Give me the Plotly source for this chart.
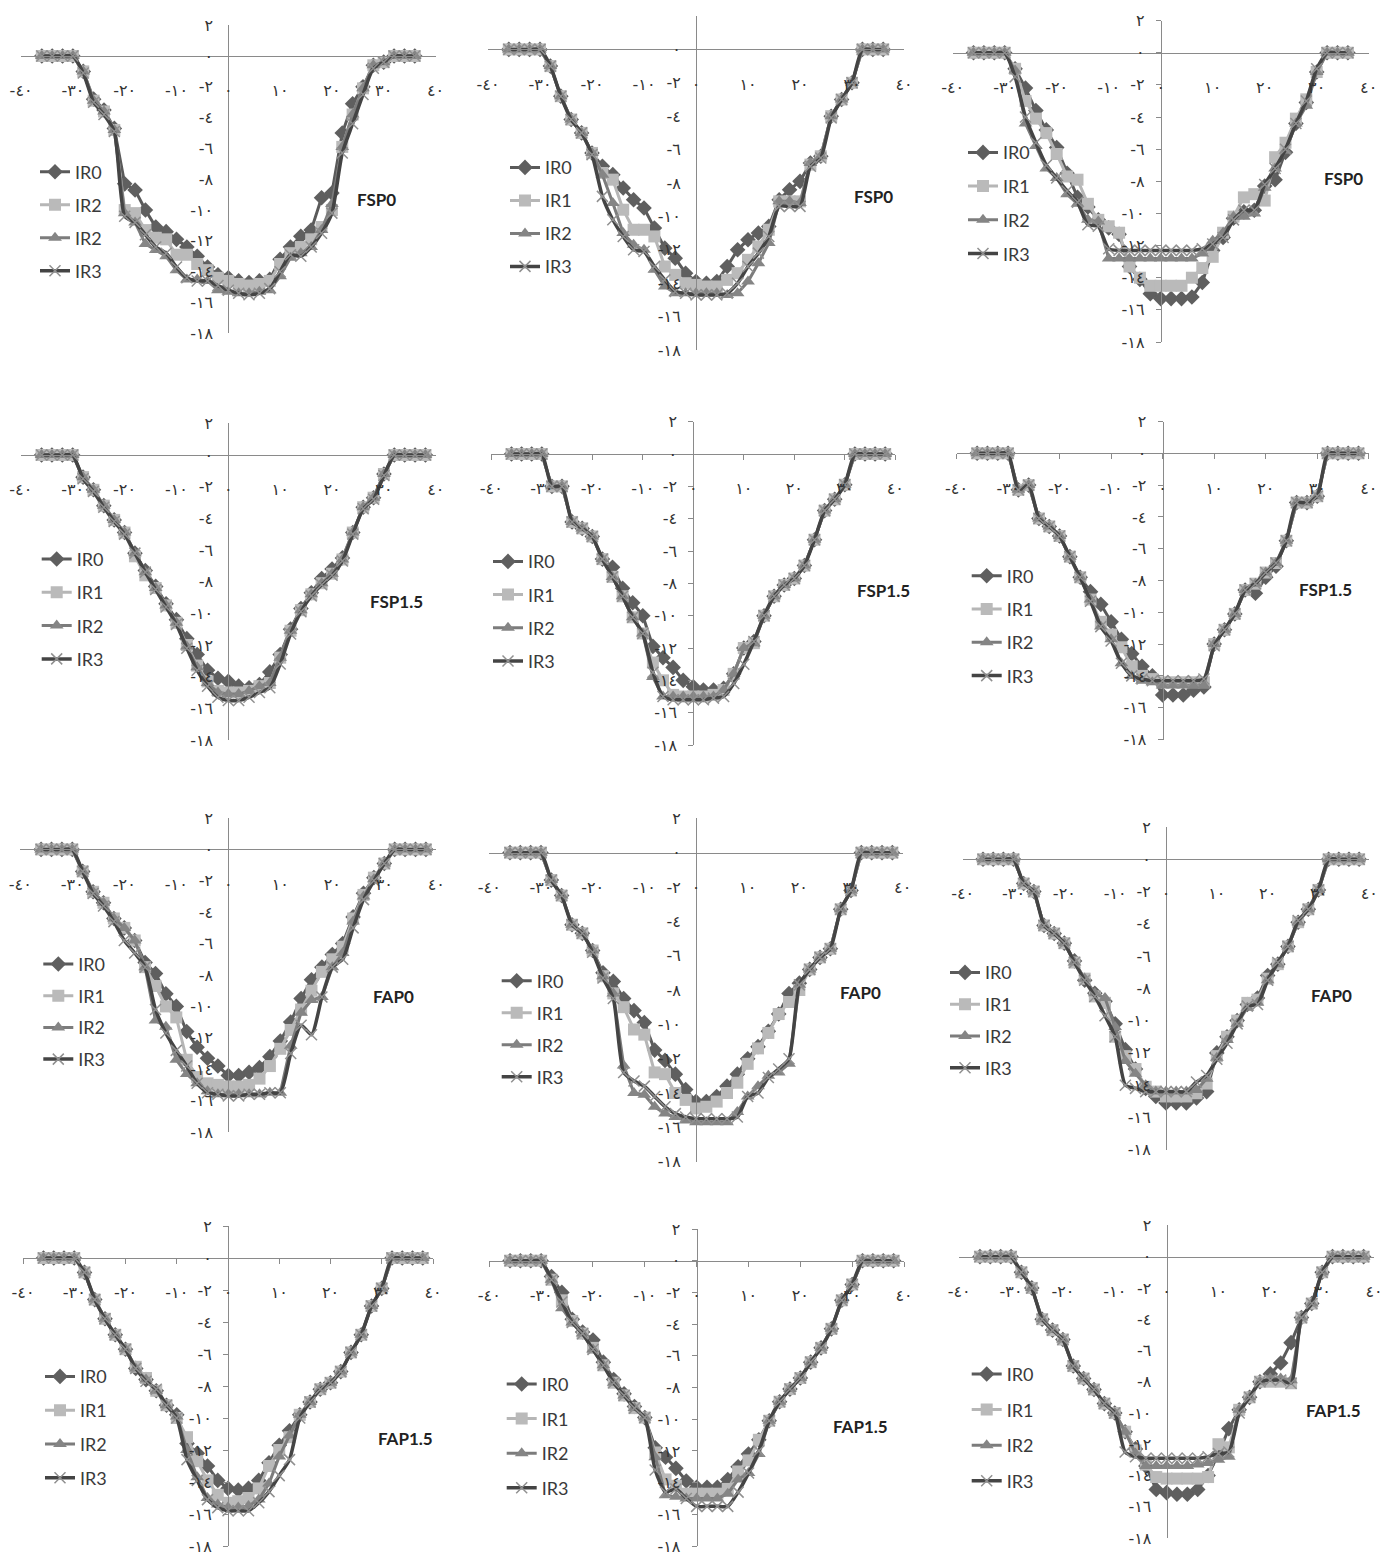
import plotly.graph_objects as go

# ---------------- data ----------------
X = [-36, -34, -32, -30, -28, -26, -24, -22, -20, -18, -16, -14, -12, -10, -8, -6, -4, -2, 0,
     2, 4, 6, 8, 10, 12, 14, 16, 18, 20, 22, 24, 26, 28, 30, 32, 34, 36, 38]

SERIES = ["IR0", "IR1", "IR2", "IR3"]
LEGEND_NAMES_P1 = ["IR0", "IR2", "IR2", "IR3"]
TITLES = ["FSP0", "FSP0", "FSP0", "FSP1.5", "FSP1.5", "FSP1.5",
          "FAP0", "FAP0", "FAP0", "FAP1.5", "FAP1.5", "FAP1.5"]

X_TICK_VALS = [-40, -30, -20, -10, 0, 10, 20, 30, 40]
X_TICK_TEXT = ["-٤٠", "-٣٠", "-٢٠", "-١٠", "٠", "١٠", "٢٠", "٣٠", "٤٠"]
Y_TICK_VALS = [2, 0, -2, -4, -6, -8, -10, -12, -14, -16, -18]
Y_TICK_TEXT = ["٢", "٠", "-٢", "-٤", "-٦", "-٨", "-١٠", "-١٢", "-١٤", "-١٦", "-١٨"]

# Panel 1 – FSP0
P1_IR0 = [0,0,0,0, -1.0,-2.8,-3.5,-4.7,-8.3,-8.7,-10.0,-11.1,-11.4,-11.9,-12.4,-13.0,-13.7,-14.2, -14.4,
          -14.6,-14.7,-14.6,-14.5,-13.2,-12.4,-11.7,-11.3,-9.2,-8.9,-5.0,-3.1,-2.0,-0.6,-0.4, 0,0,0,None]
P1_IR1 = [0,0,0,0, -1.0,-2.9,-3.6,-4.8,-10.0,-10.2,-11.3,-11.8,-11.9,-12.9,-12.9,-13.5,-13.9,-14.4, -14.6,
          -14.8,-14.9,-14.8,-14.6,-13.5,-12.8,-12.4,-11.9,-11.1,-10.0,-5.9,-3.8,-2.1,-0.6,-0.4, 0,0,0,None]
P1_IR2 = [0,0,0,0, -1.0,-2.9,-3.6,-4.8,-10.2,-10.8,-12.2,-12.6,-13.0,-13.9,-14.5,-14.5,-14.6,-15.2, -15.3,
          -15.4,-15.4,-15.3,-15.2,-14.3,-13.1,-12.8,-12.4,-11.3,-9.6,-5.9,-3.8,-2.1,-0.6,-0.4, 0,0,0,None]
P1_IR3 = [0,0,0,0, -1.1,-3.0,-3.8,-4.9,-10.4,-10.8,-11.6,-12.4,-12.8,-13.7,-14.4,-14.6,-14.6,-14.9, -15.2,
          -15.4,-15.5,-15.4,-15.1,-14.0,-12.9,-13.0,-12.4,-11.5,-10.2,-6.3,-4.4,-2.5,-0.8,-0.4, 0,0,0,None]

# Panel 2 – FSP0
P2_IR0 = [0,0,0,0, -1.0,-2.8,-4.2,-5.0,-6.2,-7.0,-7.5,-8.3,-9.0,-9.5,-10.7,-11.9,-12.5,-13.4, -13.9,
          -14.0,-13.9,-13.0,-12.0,-11.4,-11.0,-10.6,-9.0,-8.4,-7.9,-6.8,-6.4,-4.0,-3.0,-2.0, 0,0,0,None]
P2_IR1 = [0,0,0,0, -1.0,-2.8,-4.2,-5.0,-6.2,-7.4,-7.8,-9.6,-10.8,-10.8,-11.2,-13.0,-13.5,-14.0, -14.1,
          -14.2,-14.2,-13.8,-13.4,-12.6,-11.8,-10.8,-9.1,-9.1,-9.1,-6.9,-6.4,-4.0,-3.0,-2.0, 0,0,0,None]
P2_IR2 = [0,0,0,0, -1.0,-2.8,-4.2,-5.0,-6.2,-7.5,-9.2,-11.0,-11.7,-12.0,-13.2,-14.2,-14.6,-14.6, -14.6,
          -14.6,-14.6,-14.7,-14.6,-13.9,-12.8,-11.6,-9.1,-9.1,-9.2,-6.8,-6.4,-4.0,-3.0,-2.0, 0,0,0,None]
P2_IR3 = [0,0,0,0, -1.0,-2.8,-4.2,-5.0,-6.3,-8.8,-10.2,-11.2,-12.0,-12.1,-13.0,-13.8,-14.5,-14.6, -14.7,
          -14.7,-14.7,-14.6,-14.0,-13.0,-12.2,-11.2,-9.4,-9.4,-9.4,-7.0,-6.5,-4.1,-3.0,-2.0, 0,0,0,None]

# Panel 3 – FSP0
P3_IR0 = [0,0,0,0, -1.0,-2.2,-3.6,-4.8,-5.9,-7.5,-9.0,-9.6,-10.4,-10.9,-11.3,-13.3,-14.1,-15.0, -15.3,
          -15.3,-15.3,-15.2,-14.3,-12.3,-11.5,-10.3,-9.9,-9.8,-8.3,-7.9,-6.2,-4.4,-3.1,-1.2, 0,0,0,None]
P3_IR1 = [0,0,0,0, -1.0,-3.0,-4.1,-5.0,-6.3,-7.7,-7.9,-9.4,-10.4,-10.8,-11.2,-13.3,-14.0,-14.5, -14.5,
          -14.5,-14.5,-14.0,-13.4,-12.7,-11.2,-10.2,-9.0,-8.8,-9.2,-6.5,-5.6,-4.1,-2.9,-1.2, 0,0,0,None]
P3_IR2 = [0,0,0,0, -1.1,-4.4,-5.8,-7.2,-7.8,-8.8,-9.4,-10.4,-10.5,-12.8,-12.8,-12.8,-12.8,-12.8, -12.8,
          -12.8,-12.8,-12.8,-12.5,-11.7,-11.2,-10.2,-10.2,-10.0,-8.4,-7.2,-6.1,-4.4,-3.3,-1.2, 0,0,0,None]
P3_IR3 = [0,0,0,0, -1.5,-4.0,-5.6,-7.0,-7.8,-8.6,-9.3,-10.7,-10.8,-12.2,-12.3,-12.3,-12.3,-12.3, -12.3,
          -12.3,-12.3,-12.3,-12.2,-11.9,-11.5,-10.4,-9.8,-9.8,-8.2,-7.2,-6.0,-4.4,-3.0,-1.0, 0,0,0,None]

# Panel 4 – FSP1.5
P4_IR0 = [0,0,0,0, -1.4,-2.2,-3.2,-4.1,-4.9,-6.2,-7.3,-8.3,-9.4,-10.4,-11.6,-12.6,-13.6,-14.1, -14.3,
          -14.6,-14.7,-14.5,-13.7,-12.6,-11.0,-9.7,-8.7,-7.8,-7.2,-6.5,-4.9,-3.3,-2.7,-1.2, 0,0,0,0]
P4_IR1 = [0,0,0,0, -1.4,-2.2,-3.2,-4.1,-4.9,-6.4,-7.6,-8.4,-9.5,-10.6,-12.0,-13.3,-14.3,-14.9, -15.0,
          -15.0,-14.9,-14.6,-14.4,-12.8,-11.1,-9.8,-8.8,-8.1,-7.5,-6.6,-4.9,-3.3,-2.7,-1.2, 0,0,0,0]
P4_IR2 = [0,0,0,0, -1.4,-2.2,-3.2,-4.1,-4.9,-6.2,-7.4,-8.4,-9.5,-10.6,-12.1,-13.4,-14.4,-15.0, -15.1,
          -15.1,-14.9,-14.6,-14.4,-12.8,-11.1,-9.8,-8.8,-8.1,-7.5,-6.6,-4.9,-3.3,-2.7,-1.2, 0,0,0,0]
P4_IR3 = [0,0,0,0, -1.5,-2.3,-3.3,-4.2,-5.0,-6.2,-7.4,-8.5,-9.6,-10.7,-12.2,-13.6,-14.6,-15.3, -15.5,
          -15.5,-15.3,-15.0,-14.7,-13.2,-11.3,-9.9,-8.9,-8.2,-7.6,-6.7,-5.0,-3.4,-2.8,-1.3, 0,0,0,0]

# Panel 5 – FSP1.5
P5_IR0 = [0,0,0,0, -2.0,-2.0,-4.2,-4.6,-5.1,-6.5,-7.0,-8.3,-9.2,-10.0,-11.9,-12.6,-13.2,-14.0, -14.4,
          -14.6,-14.6,-14.5,-13.6,-12.0,-11.6,-10.0,-8.8,-8.1,-7.7,-6.9,-5.3,-3.5,-2.8,-1.9, 0,0,0,0]
P5_IR1 = [0,0,0,0, -2.0,-2.0,-4.2,-4.6,-5.1,-6.5,-7.6,-8.8,-10.1,-11.1,-12.9,-14.0,-14.9,-15.0, -15.0,
          -15.0,-14.9,-14.6,-13.6,-12.0,-11.7,-10.0,-8.8,-8.1,-7.7,-6.9,-5.3,-3.5,-2.8,-1.9, 0,0,0,0]
P5_IR2 = [0,0,0,0, -2.0,-2.0,-4.2,-4.6,-5.1,-6.5,-7.6,-8.8,-10.1,-11.1,-13.8,-15.0,-15.0,-15.0, -15.0,
          -15.0,-15.0,-14.6,-13.6,-12.0,-11.7,-10.0,-8.8,-8.1,-7.7,-6.9,-5.3,-3.5,-2.8,-1.9, 0,0,0,0]
P5_IR3 = [0,0,0,0, -2.0,-2.0,-4.2,-4.6,-5.1,-6.5,-7.6,-8.8,-10.1,-11.1,-13.5,-15.0,-15.2,-15.2, -15.2,
          -15.2,-15.1,-15.0,-14.2,-13.0,-11.6,-10.0,-8.8,-8.1,-7.7,-6.9,-5.3,-3.5,-2.8,-1.9, 0,0,0,0]

# Panel 6 – FSP1.5
P6_IR0 = [0,0,0,0, -2.3,-2.0,-4.1,-4.6,-5.2,-6.5,-7.8,-8.7,-9.5,-10.6,-11.7,-12.6,-13.4,-14.0, -15.2,
          -15.2,-15.2,-14.9,-14.7,-12.0,-11.1,-10.1,-8.6,-8.8,-7.8,-7.1,-5.5,-3.1,-3.1,-2.7, 0,0,0,0]
P6_IR1 = [0,0,0,0, -2.3,-2.0,-4.1,-4.6,-5.2,-6.5,-7.8,-9.2,-10.6,-11.4,-12.2,-13.4,-14.0,-14.2, -14.4,
          -14.4,-14.4,-14.4,-14.4,-12.0,-11.1,-10.1,-8.6,-8.2,-7.5,-6.9,-5.5,-3.1,-3.1,-2.7, 0,0,0,0]
P6_IR2 = [0,0,0,0, -2.3,-2.0,-4.1,-4.6,-5.2,-6.5,-7.8,-9.2,-10.9,-11.7,-13.2,-14.0,-14.3,-14.4, -14.6,
          -14.6,-14.6,-14.6,-14.6,-12.0,-11.1,-10.1,-8.6,-8.2,-7.5,-6.9,-5.5,-3.1,-3.1,-2.7, 0,0,0,0]
P6_IR3 = [0,0,0,0, -2.3,-2.0,-4.1,-4.6,-5.2,-6.5,-7.8,-9.3,-10.9,-11.8,-13.2,-14.0,-14.2,-14.3, -14.3,
          -14.3,-14.3,-14.3,-14.2,-12.1,-11.1,-10.1,-8.6,-8.2,-7.5,-6.9,-5.5,-3.1,-3.1,-2.7, 0,0,0,0]

# Panel 7 – FAP0
P7_IR0 = [0,0,0,0, -1.4,-2.7,-3.4,-4.4,-5.0,-5.8,-7.2,-7.9,-9.2,-10.0,-11.6,-12.6,-13.3,-13.8, -14.4,
          -14.4,-14.2,-13.9,-13.2,-12.2,-11.0,-9.5,-8.3,-7.5,-6.7,-6.0,-4.3,-2.8,-1.8,-0.9, 0,0,0,0]
P7_IR1 = [0,0,0,0, -1.4,-2.7,-3.4,-4.4,-5.0,-5.8,-7.5,-8.7,-10.0,-10.7,-13.4,-14.5,-14.9,-15.0, -15.1,
          -15.1,-15.0,-14.6,-13.8,-12.7,-11.5,-10.2,-9.0,-7.8,-7.0,-6.2,-4.4,-2.9,-1.8,-0.9, 0,0,0,0]
P7_IR2 = [0,0,0,0, -1.4,-2.7,-3.4,-4.4,-5.0,-5.8,-7.5,-10.9,-11.3,-13.4,-14.3,-14.9,-15.4,-15.6, -15.6,
          -15.6,-15.6,-15.6,-15.5,-15.5,-12.5,-10.4,-9.6,-9.4,-7.5,-6.6,-4.6,-3.0,-1.9,-0.9, 0,0,0,0]
P7_IR3 = [0,0,0,0, -1.4,-2.8,-3.6,-4.6,-5.8,-6.6,-7.5,-10.2,-11.7,-12.8,-13.8,-14.9,-15.5,-15.6, -15.7,
          -15.7,-15.6,-15.6,-15.5,-15.5,-13.0,-11.2,-11.8,-9.4,-7.5,-7.0,-5.0,-3.2,-2.0,-0.9, 0,0,0,0]

# Panel 8 – FAP0
P8_IR0 = [0,0,0,0, -1.6,-2.5,-4.2,-4.7,-5.7,-7.0,-7.5,-8.5,-9.2,-9.9,-11.5,-12.1,-12.9,-13.8, -14.5,
          -14.5,-14.2,-13.6,-12.9,-12.0,-11.3,-10.4,-9.4,-8.2,-7.6,-6.8,-6.1,-5.6,-3.3,-2.2, 0,0,0,0]
P8_IR1 = [0,0,0,0, -1.6,-2.5,-4.2,-4.7,-5.7,-7.2,-8.2,-9.0,-10.3,-10.6,-12.8,-12.9,-14.0,-14.4, -14.9,
          -14.8,-14.5,-14.0,-13.4,-12.3,-11.4,-10.5,-9.4,-8.7,-8.0,-6.8,-6.1,-5.6,-3.3,-2.2, 0,0,0,0]
P8_IR2 = [0,0,0,0, -1.6,-2.5,-4.2,-4.7,-5.7,-7.2,-8.2,-12.4,-14.0,-14.1,-14.8,-15.2,-15.4,-15.6, -15.7,
          -15.7,-15.7,-15.7,-15.1,-14.2,-13.6,-13.0,-12.8,-12.3,-7.7,-6.8,-6.1,-5.6,-3.3,-2.2, 0,0,0,0]
P8_IR3 = [0,0,0,0, -1.6,-2.5,-4.2,-4.7,-5.8,-7.3,-8.5,-12.8,-13.3,-13.6,-14.2,-14.8,-15.2,-15.4, -15.5,
          -15.5,-15.5,-15.5,-15.4,-14.2,-14.0,-13.1,-12.6,-12.0,-7.7,-6.8,-6.1,-5.6,-3.3,-2.2, 0,0,0,0]

# Panel 9 – FAP0
P9_IR0 = [0,0,0,0, -1.5,-2.0,-4.1,-4.6,-5.2,-6.3,-7.5,-8.3,-8.8,-10.2,-11.8,-13.0,-14.2,-14.7, -15.1,
          -15.1,-15.1,-14.8,-14.4,-12.0,-11.0,-10.0,-9.0,-8.6,-7.2,-6.5,-5.4,-3.9,-3.1,-1.9, 0,0,0,0]
P9_IR1 = [0,0,0,0, -1.5,-2.0,-4.1,-4.6,-5.2,-6.4,-7.4,-8.5,-8.9,-11.0,-12.2,-13.0,-14.1,-14.4, -14.7,
          -14.7,-14.7,-14.5,-13.9,-12.2,-11.0,-10.0,-8.9,-8.7,-7.4,-6.5,-5.4,-3.9,-3.1,-1.9, 0,0,0,0]
P9_IR2 = [0,0,0,0, -1.5,-2.0,-4.1,-4.6,-5.2,-6.4,-7.4,-8.3,-8.6,-10.4,-12.5,-13.3,-14.0,-14.4, -14.4,
          -14.4,-14.4,-14.3,-13.6,-12.3,-11.2,-10.2,-9.2,-8.9,-7.5,-6.5,-5.4,-3.9,-3.1,-1.9, 0,0,0,0]
P9_IR3 = [0,0,0,0, -1.5,-2.0,-4.1,-4.6,-5.2,-6.4,-7.5,-8.5,-9.7,-11.0,-14.0,-14.2,-14.4,-14.4, -14.4,
          -14.4,-14.4,-13.8,-13.4,-12.4,-11.4,-10.2,-9.1,-9.0,-7.5,-6.4,-5.4,-3.8,-3.1,-1.9, 0,0,0,0]

# Panel 10 – FAP1.5
P10_IR0 = [0,0,0,0, -0.9,-2.6,-3.8,-4.8,-5.7,-6.9,-7.6,-8.3,-9.2,-9.8,-11.6,-12.2,-13.0,-13.9, -14.4,
           -14.5,-14.4,-13.9,-12.8,-11.7,-10.8,-9.8,-9.0,-8.2,-7.8,-7.1,-5.9,-4.8,-3.0,-1.9, 0,0,0,0]
P10_IR1 = [0,0,0,0, -0.9,-2.6,-3.8,-4.8,-5.7,-6.8,-7.5,-8.3,-9.2,-10.0,-11.2,-12.7,-13.9,-14.8, -15.3,
           -15.2,-15.0,-14.4,-13.0,-12.0,-11.2,-9.8,-9.0,-8.2,-7.8,-7.1,-5.9,-4.8,-3.0,-1.9, 0,0,0,0]
P10_IR2 = [0,0,0,0, -0.9,-2.6,-3.8,-4.8,-5.7,-6.9,-7.6,-8.3,-9.2,-9.9,-12.0,-13.7,-15.0,-15.4, -15.6,
           -15.6,-15.5,-15.1,-14.1,-12.4,-11.1,-9.8,-9.0,-8.2,-7.8,-7.1,-5.9,-4.8,-3.0,-1.9, 0,0,0,0]
P10_IR3 = [0,0,0,0, -0.9,-2.6,-3.8,-4.8,-5.7,-6.9,-7.7,-8.2,-9.2,-10.0,-12.6,-13.9,-15.1,-15.6, -15.8,
           -15.8,-15.8,-15.3,-14.6,-13.6,-12.6,-10.0,-9.0,-8.2,-7.8,-7.1,-5.9,-4.8,-3.0,-1.9, 0,0,0,0]

# Panel 11 – FAP1.5
P11_IR0 = [0,0,0,0, -1.0,-2.0,-3.7,-4.5,-5.0,-6.4,-7.5,-8.4,-9.2,-9.9,-11.8,-12.4,-13.1,-13.9, -14.3,
           -14.3,-14.3,-13.8,-13.0,-12.2,-11.3,-10.1,-8.9,-8.1,-7.4,-6.4,-5.5,-4.3,-2.5,-1.5, 0,0,0,0]
P11_IR1 = [0,0,0,0, -1.2,-2.5,-3.8,-4.6,-5.5,-6.6,-7.7,-8.5,-9.3,-9.9,-12.1,-13.8,-14.2,-14.7, -14.7,
           -14.7,-14.7,-14.4,-13.3,-12.6,-11.3,-10.1,-8.9,-8.1,-7.4,-6.4,-5.5,-4.3,-2.5,-1.5, 0,0,0,0]
P11_IR2 = [0,0,0,0, -1.2,-3.0,-3.9,-4.6,-5.6,-6.6,-7.7,-8.5,-9.3,-9.9,-12.4,-14.8,-14.9,-15.0, -15.0,
           -15.0,-15.0,-14.7,-13.8,-13.4,-12.2,-10.1,-8.9,-8.1,-7.4,-6.4,-5.5,-4.3,-2.5,-1.5, 0,0,0,0]
P11_IR3 = [0,0,0,0, -1.2,-2.6,-3.9,-4.6,-5.6,-6.6,-7.7,-8.5,-9.3,-9.9,-13.2,-14.6,-14.4,-15.0, -15.5,
           -15.5,-15.5,-15.5,-14.6,-13.4,-12.0,-10.1,-8.9,-8.1,-7.4,-6.4,-5.5,-4.3,-2.5,-1.5, 0,0,0,0]

# Panel 12 – FAP1.5
P12_IR0 = [0,0,0,0, -1.0,-2.0,-4.0,-4.7,-5.3,-7.0,-7.8,-8.5,-9.4,-10.0,-11.2,-12.3,-13.4,-14.9, -15.1,
           -15.2,-15.2,-14.9,-14.0,-12.6,-11.0,-9.8,-9.0,-8.0,-7.5,-6.8,-5.5,-3.9,-3.0,-1.0, 0,0,0,0]
P12_IR1 = [0,0,0,0, -1.0,-2.0,-4.0,-4.7,-5.3,-7.0,-7.8,-8.5,-9.4,-10.0,-11.2,-12.4,-13.3,-14.1, -14.2,
           -14.2,-14.2,-14.2,-14.1,-12.0,-12.2,-9.8,-9.0,-8.0,-8.0,-8.0,-8.1,-3.9,-3.0,-1.0, 0,0,0,0]
P12_IR2 = [0,0,0,0, -1.0,-2.0,-4.0,-4.7,-5.3,-7.0,-7.8,-8.5,-9.4,-10.0,-11.2,-12.6,-13.4,-13.4, -13.4,
           -13.4,-13.4,-13.3,-13.2,-13.0,-12.8,-9.8,-9.0,-8.0,-7.8,-7.8,-7.9,-3.9,-3.0,-1.0, 0,0,0,0]
P12_IR3 = [0,0,0,0, -1.0,-2.0,-4.0,-4.7,-5.3,-7.0,-7.8,-8.5,-9.4,-10.0,-12.5,-12.8,-12.9,-12.9, -12.9,
           -12.9,-12.9,-12.9,-12.8,-12.6,-12.5,-10.0,-9.0,-8.0,-7.9,-7.9,-8.1,-3.9,-3.0,-1.0, 0,0,0,0]

PANEL_DATA = [
    (P1_IR0, P1_IR1, P1_IR2, P1_IR3), (P2_IR0, P2_IR1, P2_IR2, P2_IR3), (P3_IR0, P3_IR1, P3_IR2, P3_IR3),
    (P4_IR0, P4_IR1, P4_IR2, P4_IR3), (P5_IR0, P5_IR1, P5_IR2, P5_IR3), (P6_IR0, P6_IR1, P6_IR2, P6_IR3),
    (P7_IR0, P7_IR1, P7_IR2, P7_IR3), (P8_IR0, P8_IR1, P8_IR2, P8_IR3), (P9_IR0, P9_IR1, P9_IR2, P9_IR3),
    (P10_IR0, P10_IR1, P10_IR2, P10_IR3), (P11_IR0, P11_IR1, P11_IR2, P11_IR3), (P12_IR0, P12_IR1, P12_IR2, P12_IR3),
]
for grp in PANEL_DATA:
    for s in grp:
        assert len(s) == len(X), len(s)

# ---------------- layout geometry (screen pixels) ----------------
SCREEN_W, SCREEN_H = 1395, 1559
OFF = 8                      # default page margin of the html body
W, H = SCREEN_W - OFF, SCREEN_H - OFF


def px_x(v):
    return (v - OFF) / W


def px_y(v):
    return 1 - (v - OFF) / H


# (x of -40, x of 40, y of +2, y of -18)
GEOM = [
    (21.1, 435.5, 25.2, 333.3), (488.0, 904.0, 16.0, 350.0), (952.7, 1368.7, 20.6, 342.0),
    (20.8, 435.8, 423.3, 740.0), (491.3, 895.3, 421.7, 745.0), (956.5, 1368.8, 421.5, 739.5),
    (20.3, 436.3, 818.0, 1132.0), (489.3, 902.7, 818.3, 1161.7), (962.7, 1369.3, 827.0, 1149.7),
    (23.0, 433.0, 1226.0, 1546.0), (489.3, 904.0, 1229.0, 1546.0), (959.2, 1374.0, 1225.4, 1538.0),
]
# (line start x, first item centre y, item spacing)
LEG = [
    (40, 171, 33), (510, 166.7, 33), (968, 151.7, 33.7),
    (41.7, 558.3, 33.3), (493, 560.7, 33.2), (971.7, 575, 33.3),
    (43.3, 963.3, 31.7), (501.7, 980, 32), (950, 971.7, 31.8),
    (45, 1375.7, 33.8), (506.7, 1383.3, 34.6), (971.7, 1373.3, 35.6),
]
TITLE_POS = [
    (376.7, 200), (873.3, 196.7), (1343.3, 178.3),
    (396.7, 601.7), (883.3, 590.7), (1325, 590),
    (393.3, 996.7), (860, 992.7), (1331.7, 995),
    (405, 1438), (860, 1426.7), (1333.3, 1410),
]
# (x ticks shown, y ticks shown)
TICKS = [(False, False), (False, False), (False, True),
         (False, False), (True, True), (True, True),
         (False, False), (False, False), (False, False),
         (True, True), (True, True), (False, False)]

STYLES = [
    dict(line=dict(color="#5a5a5a", width=3),
         marker=dict(symbol="diamond", size=12, color="#5f5f5f", line=dict(width=0))),
    dict(line=dict(color="#b6b6b6", width=3),
         marker=dict(symbol="square", size=12, color="#bababa", line=dict(width=0))),
    dict(line=dict(color="#7c7c7c", width=3),
         marker=dict(symbol="triangle-up", size=12, color="#858585", line=dict(width=0))),
    dict(line=dict(color="#444444", width=3.5, shape="spline", smoothing=0.6),
         marker=dict(symbol="x-thin", size=11, color="#909090", line=dict(width=1.5, color="#909090"))),
]

TEXT_FONT = "Liberation Sans Narrow, Arial Narrow, Lato, Roboto, sans-serif"
TICK_FONT = dict(family="DejaVu Sans, Noto Sans, sans-serif", size=16, color="#333333")
AXIS_COLOR = "#8a8a8a"

fig = go.Figure()
layout = dict(width=W, height=H, margin=dict(l=0, r=0, t=0, b=0, pad=0, autoexpand=False),
              paper_bgcolor="white", plot_bgcolor="white", showlegend=True,
              annotations=[])

for i in range(12):
    n = i + 1
    xa = "x" if n == 1 else f"x{n}"
    ya = "y" if n == 1 else f"y{n}"
    xkey = "xaxis" if n == 1 else f"xaxis{n}"
    ykey = "yaxis" if n == 1 else f"yaxis{n}"
    lkey = "legend" if n == 1 else f"legend{n}"
    xl, xr, yt, yb = GEOM[i]
    y0 = yt + (yb - yt) * 0.1
    x0 = (xl + xr) / 2
    showx, showy = TICKS[i]

    layout[xkey] = dict(
        domain=[px_x(xl), px_x(xr)], range=[-40, 40], anchor="free", position=px_y(y0),
        automargin=False,
        tickmode="array", tickvals=X_TICK_VALS, ticktext=X_TICK_TEXT,
        showline=True, linecolor=AXIS_COLOR, linewidth=1, showgrid=False, zeroline=False,
        ticks="outside" if showx else "", ticklen=5, tickcolor=AXIS_COLOR,
        tickfont=TICK_FONT, ticklabelstandoff=15 if showx else 20, fixedrange=True,
    )
    layout[ykey] = dict(
        domain=[px_y(yb), px_y(yt)], range=[-18, 2], anchor="free", position=px_x(x0),
        automargin=False,
        tickmode="array", tickvals=Y_TICK_VALS, ticktext=Y_TICK_TEXT,
        showline=True, linecolor=AXIS_COLOR, linewidth=1, showgrid=False, zeroline=False,
        ticks="outside" if showy else "", ticklen=5, tickcolor=AXIS_COLOR,
        tickfont=TICK_FONT, ticklabelstandoff=8 if showy else 12, fixedrange=True,
    )

    lx, ly, gap = LEG[i]
    layout[lkey] = dict(
        x=px_x(lx - 5), y=px_y(ly - 17.5), xanchor="left", yanchor="top",
        bgcolor="rgba(0,0,0,0)", borderwidth=0,
        font=dict(family=TEXT_FONT, size=18, color="#3a3a3a"),
        traceorder="grouped", tracegroupgap=max(gap - 26.4, 0),
    )

    names = LEGEND_NAMES_P1 if i == 0 else SERIES
    for j, vals in enumerate(PANEL_DATA[i]):
        st = STYLES[j]
        fig.add_trace(go.Scatter(
            x=X, y=vals, mode="lines+markers", name=names[j],
            legend=lkey, legendgroup=f"p{n}_{j}",
            xaxis=xa, yaxis=ya, line=st["line"], marker=st["marker"],
            cliponaxis=False, hoverinfo="skip",
        ))

    tx, ty = TITLE_POS[i]
    layout["annotations"].append(dict(
        x=px_x(tx), y=px_y(ty), xref="paper", yref="paper", showarrow=False,
        text=f"<b>{TITLES[i]}</b>", xanchor="center", yanchor="middle",
        font=dict(family=TEXT_FONT, size=17, color="#222222"),
    ))

fig.update_layout(**layout)
fig.write_html("out.html")
